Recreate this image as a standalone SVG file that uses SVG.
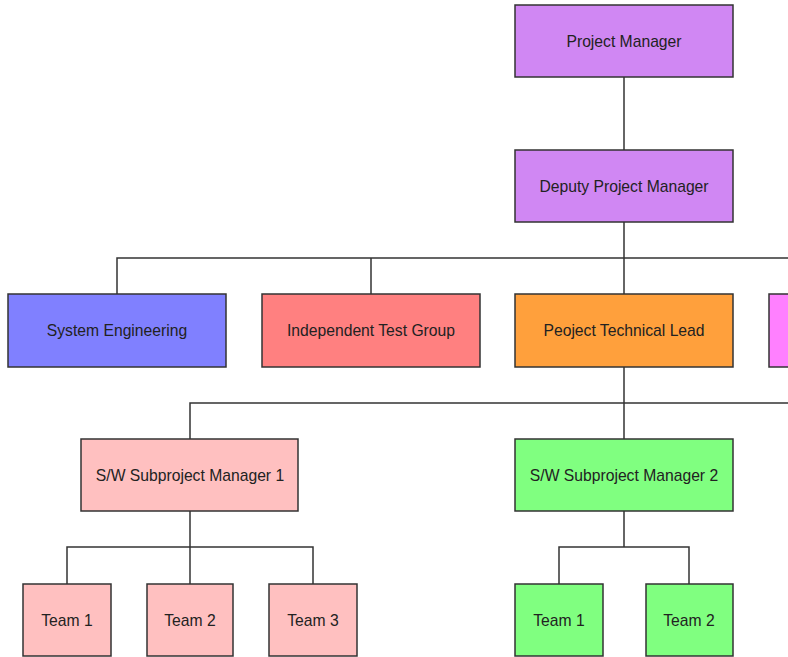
<svg xmlns="http://www.w3.org/2000/svg" width="788" height="657" viewBox="0 0 788 657">
  <style>
    .box { stroke: #333333; stroke-width: 1.5; }
    .lbl { font-family: "Liberation Sans", Arial, sans-serif; font-size: 15.7px; fill: #222222; text-anchor: middle; }
    .wire { fill: none; stroke: #333333; stroke-width: 1.5; }
    .purple { fill: #D087F3; }
    .blue { fill: #8080FF; }
    .red { fill: #FF8080; }
    .orange { fill: #FFA03C; }
    .magenta { fill: #FF80FF; }
    .pink { fill: #FFC0C0; }
    .green { fill: #80FF80; }
  </style>
  <rect width="788" height="657" fill="#ffffff"/>

  <g id="connectors">
    <path class="wire" d="M624 77 V150"/>
    <path class="wire" d="M624 222 V294"/>
    <path class="wire" d="M117 294 V258 H790"/>
    <path class="wire" d="M371 258 V294"/>
    <path class="wire" d="M624 367 V439"/>
    <path class="wire" d="M190 439 V403 H790"/>
    <path class="wire" d="M190 511 V584"/>
    <path class="wire" d="M67 584 V547 H313 V584"/>
    <path class="wire" d="M624 511 V547"/>
    <path class="wire" d="M559 584 V547 H689 V584"/>
  </g>

  <g id="project-manager">
    <rect class="box purple" x="515" y="5" width="218" height="72"/>
    <text class="lbl" x="624" y="46.5">Project Manager</text>
  </g>
  <g id="deputy-project-manager">
    <rect class="box purple" x="515" y="150" width="218" height="72"/>
    <text class="lbl" x="624" y="191.5">Deputy Project Manager</text>
  </g>

  <g id="system-engineering">
    <rect class="box blue" x="8" y="294" width="218" height="73"/>
    <text class="lbl" x="117" y="336">System Engineering</text>
  </g>
  <g id="independent-test-group">
    <rect class="box red" x="262" y="294" width="218" height="73"/>
    <text class="lbl" x="371" y="336">Independent Test Group</text>
  </g>
  <g id="project-technical-lead">
    <rect class="box orange" x="515" y="294" width="218" height="73"/>
    <text class="lbl" x="624" y="336">Peoject Technical Lead</text>
  </g>
  <g id="offpage-node">
    <rect class="box magenta" x="769" y="294" width="60" height="73"/>
  </g>

  <g id="sw-subproject-manager-1">
    <rect class="box pink" x="81" y="439" width="217" height="72"/>
    <text class="lbl" x="190" y="480.5">S/W Subproject Manager 1</text>
  </g>
  <g id="sw-subproject-manager-2">
    <rect class="box green" x="515" y="439" width="218" height="72"/>
    <text class="lbl" x="624" y="480.5">S/W Subproject Manager 2</text>
  </g>

  <g id="sm1-team-1">
    <rect class="box pink" x="23" y="584" width="88" height="72"/>
    <text class="lbl" x="67" y="625.5">Team 1</text>
  </g>
  <g id="sm1-team-2">
    <rect class="box pink" x="147" y="584" width="86" height="72"/>
    <text class="lbl" x="190" y="625.5">Team 2</text>
  </g>
  <g id="sm1-team-3">
    <rect class="box pink" x="269" y="584" width="88" height="72"/>
    <text class="lbl" x="313" y="625.5">Team 3</text>
  </g>

  <g id="sm2-team-1">
    <rect class="box green" x="515" y="584" width="88" height="72"/>
    <text class="lbl" x="559" y="625.5">Team 1</text>
  </g>
  <g id="sm2-team-2">
    <rect class="box green" x="646" y="584" width="87" height="72"/>
    <text class="lbl" x="689" y="625.5">Team 2</text>
  </g>
</svg>
